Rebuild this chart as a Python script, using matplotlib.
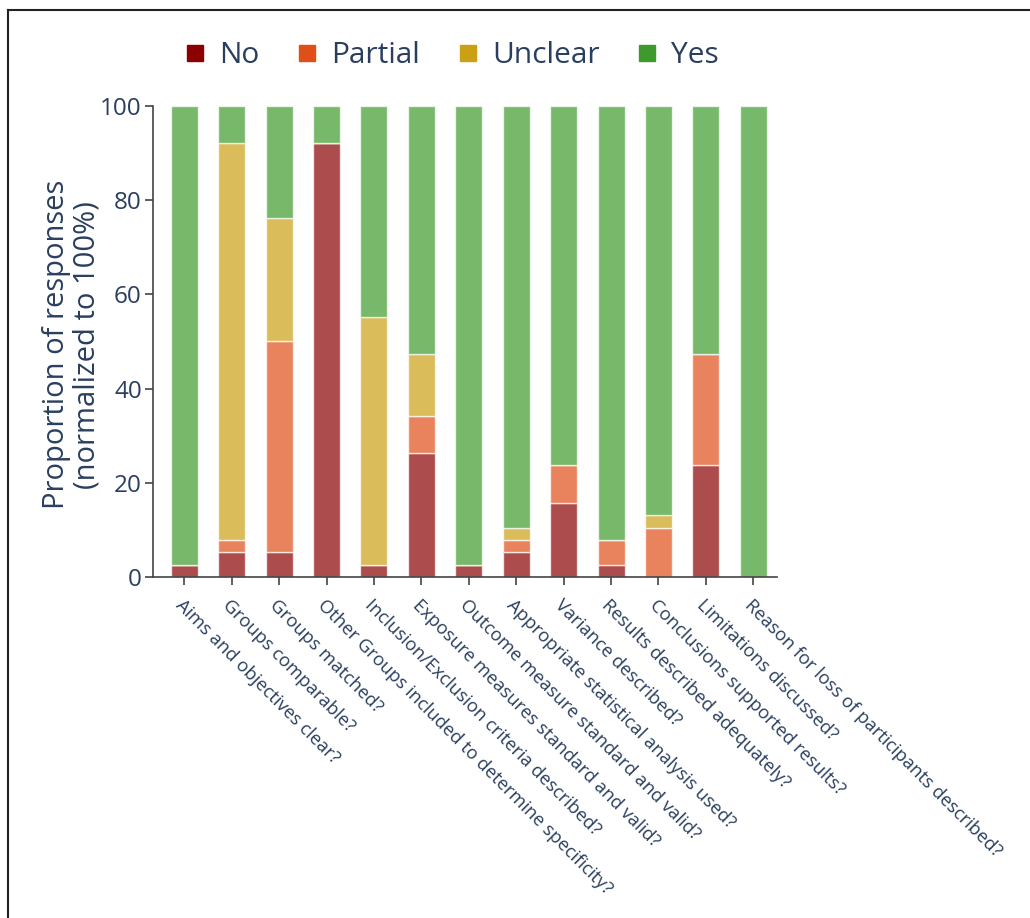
import numpy as np
import matplotlib.pyplot as plt
from matplotlib.lines import Line2D

questions = ["Aims and objectives clear?", "Groups comparable?", "Groups matched?",
             "Other Groups included to determine specificity?",
             "Inclusion/Exclusion criteria described?",
             "Exposure measures standard and valid?",
             "Outcome measure standard and valid?",
             "Appropriate statistical analysis used?", "Variance described?",
             "Results described adequately?", "Conclusions supported results?",
             "Limitations discussed?", "Reason for loss of participants described?"]

no      = [2.6, 5.3, 5.3, 92.1, 2.6, 26.3, 2.6, 5.3, 15.8, 2.6, 0.0, 23.7, 0.0]
partial = [0.0, 2.6, 44.7, 0.0, 0.0, 7.9, 0.0, 2.6, 7.9, 5.3, 10.5, 23.7, 0.0]
unclear = [0.0, 84.2, 26.3, 0.0, 52.6, 13.2, 0.0, 2.6, 0.0, 0.0, 2.6, 0.0, 0.0]
yes     = [97.4, 7.9, 23.7, 7.9, 44.7, 52.6, 97.4, 89.5, 76.3, 92.1, 86.8, 52.6, 100.0]

series = ["No", "Partial", "Unclear", "Yes"]
colors = ["#8b0000", "#e04e1a", "#cba015", "#3e9a2c"]
txt = "#2a3f5f"

plt.rcParams['font.family'] = ['Open Sans', 'DejaVu Sans']

fig = plt.figure(figsize=(10.3, 9.18), dpi=100)
ax = fig.add_axes([0.1485, 0.3715, 0.6059, 0.513])

x = np.arange(len(questions))
bottom = np.zeros(len(questions))
for name, vals, c in zip(series, [no, partial, unclear, yes], colors):
    v = np.array(vals)
    ax.bar(x, v, bottom=bottom, width=0.57, color=c, alpha=0.7,
           edgecolor="white", linewidth=1.0)
    bottom += v

ax.set_xlim(-0.66, 12.5)
ax.set_ylim(0, 100)
ax.set_yticks([0, 20, 40, 60, 80, 100])
ax.set_xticks(x)
ax.set_xticklabels(questions, rotation=-45, ha="left", va="top",
                   rotation_mode="anchor", fontsize=13.2, color=txt)
for lab in ax.get_yticklabels():
    lab.set_fontsize(17.5)
    lab.set_color(txt)
ax.tick_params(axis="both", colors="#444444", length=6, width=1.2, labelcolor=txt)
ax.tick_params(axis="x", pad=8)
ax.tick_params(axis="y", pad=2)
for s in ["top", "right"]:
    ax.spines[s].set_visible(False)
for s in ["left", "bottom"]:
    ax.spines[s].set_color("#444444")
    ax.spines[s].set_linewidth(1.2)
ax.set_ylabel("Proportion of responses\n(normalized to 100%)", fontsize=21,
              color=txt, linespacing=1.05, va="center")
ax.yaxis.set_label_coords(-0.13, 0.493)

handles = [Line2D([], [], marker="s", linestyle="none", markersize=11,
                  markerfacecolor=c, markeredgecolor=c) for c in colors]
fig.legend(handles, series, loc="center left", bbox_to_anchor=(0.155, 0.939),
           ncol=4, frameon=False, fontsize=21.5, handlelength=0.6,
           handletextpad=0.5, columnspacing=1.3, labelcolor=txt)

# frame lines on left/top
fig.add_artist(Line2D([0.008, 0.008], [0, 0.989], color="#222222", linewidth=1.5,
                      transform=fig.transFigure))
fig.add_artist(Line2D([0.008, 1.0], [0.989, 0.989], color="#222222", linewidth=1.5,
                      transform=fig.transFigure))

fig.savefig("out.png", dpi=100)
